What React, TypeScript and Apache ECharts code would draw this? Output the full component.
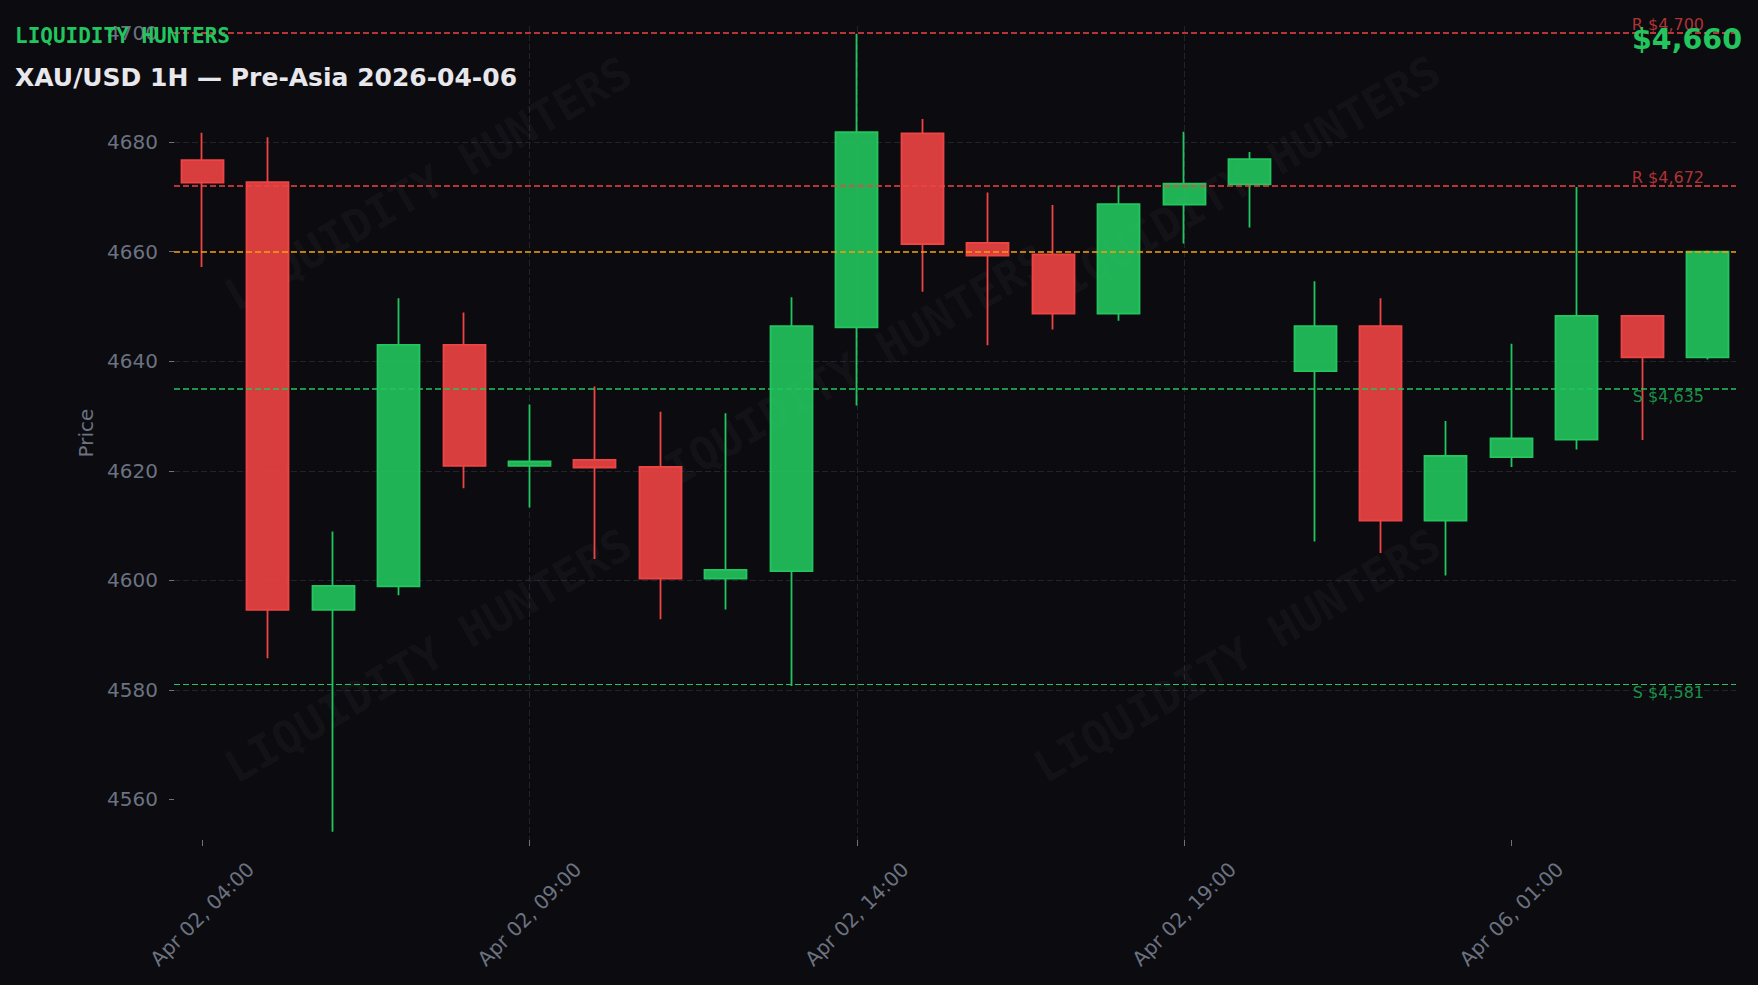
import React, { useEffect, useRef } from "react";
import * as echarts from "echarts";

const timeLabels = [
  "Apr 02, 04:00", "Apr 02, 05:00", "Apr 02, 06:00", "Apr 02, 07:00", "Apr 02, 08:00",
  "Apr 02, 09:00", "Apr 02, 10:00", "Apr 02, 11:00", "Apr 02, 12:00", "Apr 02, 13:00",
  "Apr 02, 14:00", "Apr 02, 15:00", "Apr 02, 16:00", "Apr 02, 17:00", "Apr 02, 18:00",
  "Apr 02, 19:00", "Apr 02, 20:00", "Apr 02, 21:00", "Apr 02, 22:00", "Apr 02, 23:00",
  "Apr 06, 01:00", "Apr 06, 02:00", "Apr 06, 03:00", "Apr 06, 04:00",
];
const opens = [4676.7, 4672.7, 4594.6, 4598.9, 4643.0, 4620.9, 4622.0, 4620.7, 4600.3, 4601.7, 4646.2, 4681.6, 4661.6, 4659.5, 4648.7, 4668.6, 4672.3, 4638.2, 4646.4, 4610.9, 4622.5, 4625.7, 4648.3, 4640.7];
const closes = [4672.6, 4594.6, 4599.0, 4643.0, 4620.9, 4621.7, 4620.6, 4600.3, 4601.9, 4646.4, 4681.8, 4661.4, 4659.3, 4648.7, 4668.7, 4672.4, 4676.9, 4646.4, 4610.9, 4622.7, 4625.9, 4648.3, 4640.7, 4660.0];
const lows = [4657.2, 4585.8, 4554.1, 4597.3, 4616.8, 4613.3, 4603.9, 4592.9, 4594.7, 4580.7, 4631.9, 4652.7, 4642.9, 4645.8, 4647.4, 4661.5, 4664.4, 4607.1, 4605.0, 4600.9, 4620.7, 4623.9, 4625.6, 4640.3];
const highs = [4681.7, 4680.9, 4608.9, 4651.5, 4648.9, 4632.1, 4635.4, 4630.8, 4630.5, 4651.7, 4699.8, 4684.2, 4670.8, 4668.5, 4672.1, 4681.9, 4678.2, 4654.6, 4651.5, 4629.1, 4643.2, 4671.8, 4648.3, 4660.2];

const resistanceLevels = [4700, 4672];
const resistanceWidths = [1.6, 1.6];
const supportLevels = [4635, 4581];
const supportWidths = [1.6, 1.1];

const yTicks = [4560, 4580, 4600, 4620, 4640, 4660, 4680, 4700];
const xTickIdx = [0, 5, 10, 15, 20];

const watermarkCenters = [
  [428, 184],
  [1237, 183],
  [845, 372],
  [428, 656],
  [1237, 656],
];

const RED = "#ef4444";
const GREEN = "#22c55e";
const ORANGE = "#f59e0b";
const GRAY = "#6b7280";
const BG = "#0b0b10";
const GRID = "#22232b";

const fmtUsd = (v: number) => "$" + Math.round(v).toLocaleString("en-US");

export default function App() {
  const ref = useRef<HTMLDivElement>(null);

  useEffect(() => {
    document.body.style.margin = "0";
    document.body.style.background = BG;
    if (!ref.current) return;
    const chart = echarts.init(ref.current, undefined, { renderer: "svg" });

    const lastClose = closes[closes.length - 1];
    const candleData = timeLabels.map((_, i) => [i, opens[i], closes[i], lows[i], highs[i]]);

    const markData: any[] = [];
    resistanceLevels.forEach((v, i) => {
      markData.push({
        yAxis: v,
        lineStyle: { color: RED, width: resistanceWidths[i], type: [6, 3] },
        label: {
          show: true,
          position: "insideEndTop",
          formatter: "R " + fmtUsd(v),
          color: "rgba(239,68,68,0.72)",
          fontSize: 16,
          fontFamily: "DejaVu Sans",
          distance: [32, 0],
        },
      });
    });
    supportLevels.forEach((v, i) => {
      markData.push({
        yAxis: v,
        lineStyle: { color: GREEN, width: supportWidths[i], type: [6, 3] },
        label: {
          show: true,
          position: "insideEndBottom",
          formatter: "S " + fmtUsd(v),
          color: "rgba(34,197,94,0.72)",
          fontSize: 16,
          fontFamily: "DejaVu Sans",
          distance: [32, 0],
        },
      });
    });
    markData.push({
      yAxis: lastClose,
      lineStyle: { color: ORANGE, width: 1.5, type: [6, 3] },
      label: { show: false },
    });

    const option: any = {
      animation: false,
      backgroundColor: BG,
      textStyle: { fontFamily: "DejaVu Sans" },
      title: [
        {
          text: "LIQUIDITY HUNTERS",
          left: 15,
          top: 25,
          padding: 0,
          textStyle: { color: GREEN, fontFamily: "DejaVu Sans Mono", fontWeight: "bold", fontSize: 21 },
        },
        {
          text: "XAU/USD 1H — Pre-Asia 2026-04-06",
          left: 15,
          top: 64.5,
          padding: 0,
          textStyle: { color: "#e8e8ec", fontFamily: "DejaVu Sans", fontWeight: "bold", fontSize: 25 },
        },
        {
          text: fmtUsd(lastClose),
          right: 16,
          top: 24.5,
          padding: 0,
          textStyle: { color: GREEN, fontFamily: "DejaVu Sans", fontWeight: "bold", fontSize: 28.5 },
        },
      ],
      graphic: watermarkCenters.map(([x, y]) => ({
        type: "text",
        x,
        y,
        rotation: Math.PI / 6,
        z: 1,
        silent: true,
        style: {
          text: "LIQUIDITY HUNTERS",
          fill: "rgba(255,255,255,0.045)",
          font: "bold 45px 'DejaVu Sans Mono'",
          textAlign: "center",
          textVerticalAlign: "middle",
        },
      })),
      grid: { left: 174, right: 22, top: 26, bottom: 145, containLabel: false },
      xAxis: {
        type: "value",
        min: -0.43,
        max: 23.43,
        splitNumber: 5,
        axisLine: { show: false, onZero: false },
        axisTick: {
          show: true,
          length: 6,
          lineStyle: { color: GRAY, width: 1 },
          customValues: xTickIdx,
        },
        axisLabel: {
          customValues: xTickIdx,
          formatter: (v: number) => timeLabels[Math.round(v)] ?? "",
          rotate: 45,
          align: "center",
          verticalAlign: "middle",
          margin: 74,
          color: GRAY,
          fontSize: 20,
          fontFamily: "DejaVu Sans",
        },
        splitLine: {
          show: true,
          showMinLine: false,
          showMaxLine: false,
          lineStyle: { color: GRID, width: 1, type: [6, 3] },
        },
      },
      yAxis: {
        type: "value",
        min: 4552.6,
        max: 4701.2,
        splitNumber: 7,
        position: "left",
        axisLine: { show: false, onZero: false },
        axisTick: {
          show: true,
          length: 5,
          lineStyle: { color: GRAY, width: 1 },
          customValues: yTicks,
        },
        axisLabel: {
          customValues: yTicks,
          formatter: (v: number) => String(Math.round(v)),
          color: GRAY,
          fontSize: 20,
          margin: 16,
          fontFamily: "DejaVu Sans",
        },
        splitLine: {
          show: true,
          showMinLine: false,
          showMaxLine: false,
          lineStyle: { color: GRID, width: 1, type: [6, 3] },
        },
        name: "Price",
        nameLocation: "middle",
        nameGap: 73,
        nameRotate: 90,
        nameTextStyle: { color: GRAY, fontSize: 20, fontFamily: "DejaVu Sans" },
      },
      series: [
        {
          type: "candlestick",
          data: candleData,
          barWidth: 42.5,
          itemStyle: {
            color: "rgba(34,197,94,0.9)",
            color0: "rgba(239,68,68,0.9)",
            borderColor: GREEN,
            borderColor0: RED,
            borderWidth: 1.8,
          },
          markLine: {
            silent: true,
            symbol: ["none", "none"],
            animation: false,
            data: markData,
          },
          z: 3,
        },
      ],
    };

    chart.setOption(option);
    return () => chart.dispose();
  }, []);

  return <div ref={ref} style={{ width: 1758, height: 985, background: BG }} />;
}
